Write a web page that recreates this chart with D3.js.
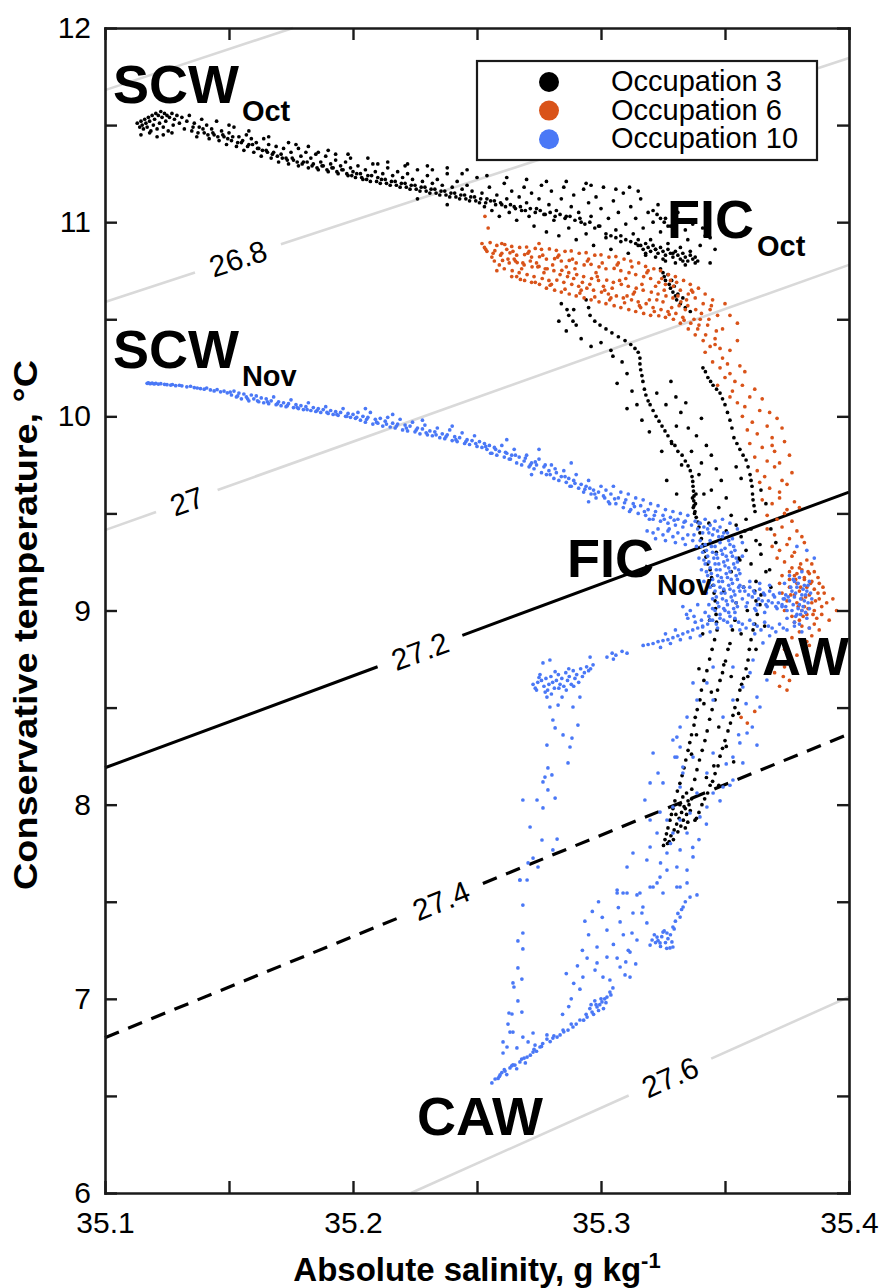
<!DOCTYPE html>
<html>
<head>
<meta charset="utf-8">
<script src="https://cdn.jsdelivr.net/npm/d3@7"></script>
<style>
  body { margin: 0; background: #fff; }
  svg { display: block; }
  text { font-family: "Liberation Sans", Arial, Helvetica, sans-serif; }
</style>
</head>
<body>
<svg id="chart" width="883" height="1288"></svg>
<script>
// ---------- axis ticks ----------
const salinityTicks = [35.1, 35.15, 35.2, 35.25, 35.3, 35.35, 35.4];
const temperatureTicks = [6, 6.5, 7, 7.5, 8, 8.5, 9, 9.5, 10, 10.5, 11, 11.5, 12];

// ---------- isopycnals (sigma0, kg m-3): end points [SA, CT] ----------
const isopycnalLevels = ["26.6", "26.8", "27", "27.2", "27.4", "27.6"];
const isopycnalEnds = [
  [[35.1, 11.68], [35.1758, 12.0]],
  [[35.1, 10.589], [35.4, 11.845]],
  [[35.1, 9.414], [35.4, 10.78]],
  [[35.1, 8.19], [35.4, 9.61]],
  [[35.1, 6.80], [35.4, 8.364]],
  [[35.2234, 6.0], [35.4, 7.01]]
];
const isopycnalLabelSalinity = [null, 35.1536, 35.133, 35.227, 35.2355, 35.3278];

// ---------- legend ----------
const seriesNames = ["Occupation 3", "Occupation 6", "Occupation 10"];

// ---------- water mass annotations ----------
const waterMassNames = ["SCW", "FIC", "SCW", "FIC", "AW", "CAW"];
const waterMassMonths = ["Oct", "Oct", "Nov", "Nov", "", ""];

// ---------- Occupation 3 : [absolute salinity, conservative temperature] ----------
const occupation3 = [
  [35.113,11.51],[35.114,11.49],[35.1145,11.52],[35.115,11.50],[35.1155,11.48],[35.116,11.53],[35.1165,11.51],[35.117,11.49],
  [35.1175,11.54],[35.118,11.52],[35.1185,11.47],[35.119,11.55],[35.1195,11.50],[35.120,11.53],[35.1205,11.56],[35.121,11.48],
  [35.1215,11.55],[35.122,11.51],[35.1225,11.57],[35.123,11.54],[35.1235,11.49],[35.124,11.56],[35.1245,11.52],[35.125,11.55],
  [35.1255,11.47],[35.126,11.54],[35.127,11.56],[35.1275,11.50],[35.128,11.53],[35.129,11.55],[35.130,11.51],[35.131,11.54],
  [35.132,11.48],[35.133,11.52],[35.134,11.55],[35.1145,11.45],[35.118,11.46],[35.121,11.44],[35.1235,11.45],[35.127,11.46],
  [35.135,11.47],[35.136,11.51],[35.137,11.44],[35.138,11.49],[35.139,11.53],[35.140,11.46],[35.141,11.50],[35.142,11.43],
  [35.143,11.48],[35.144,11.45],[35.145,11.52],[35.146,11.42],[35.147,11.47],[35.148,11.44],[35.149,11.40],[35.150,11.46],
  [35.151,11.42],[35.152,11.49],[35.153,11.39],[35.154,11.44],[35.155,11.41],[35.156,11.37],[35.157,11.45],[35.158,11.40],
  [35.159,11.43],[35.160,11.36],[35.161,11.41],[35.162,11.38],[35.163,11.34],[35.164,11.43],[35.165,11.37],[35.166,11.40],
  [35.167,11.33],[35.168,11.36],[35.169,11.39],[35.170,11.31],[35.171,11.35],[35.172,11.38],[35.173,11.33],[35.174,11.30],
  [35.175,11.36],[35.176,11.32],[35.177,11.40],[35.178,11.29],[35.179,11.34],[35.180,11.31],[35.181,11.36],[35.182,11.28],
  [35.183,11.33],[35.184,11.30],[35.185,11.35],[35.186,11.27],[35.187,11.31],[35.188,11.29],[35.189,11.34],[35.190,11.26],
  [35.191,11.30],[35.192,11.28],[35.193,11.32],[35.194,11.25],[35.195,11.29],[35.196,11.27],[35.197,11.31],[35.198,11.24],
  [35.199,11.28],[35.200,11.26],[35.178,11.38],[35.186,11.36],[35.193,11.35],[35.199,11.33],
  [35.201,11.23],[35.202,11.29],[35.203,11.25],[35.204,11.22],[35.205,11.27],[35.206,11.24],[35.207,11.21],[35.208,11.30],
  [35.209,11.26],[35.210,11.23],[35.211,11.20],[35.212,11.25],[35.213,11.22],[35.214,11.28],[35.215,11.19],[35.216,11.24],
  [35.217,11.21],[35.218,11.26],[35.219,11.18],[35.220,11.23],[35.221,11.20],[35.222,11.25],[35.223,11.17],[35.224,11.22],
  [35.225,11.19],[35.226,11.27],[35.227,11.16],[35.228,11.21],[35.229,11.18],[35.230,11.24],[35.231,11.15],[35.232,11.20],
  [35.233,11.17],[35.234,11.22],[35.235,11.14],[35.236,11.19],[35.237,11.16],[35.238,11.25],[35.239,11.13],[35.240,11.18],
  [35.241,11.15],[35.242,11.21],[35.243,11.12],[35.244,11.17],[35.245,11.14],[35.246,11.19],[35.247,11.11],[35.248,11.16],
  [35.249,11.13],[35.250,11.23],[35.210,11.30],[35.221,11.29],[35.232,11.27],[35.244,11.25],[35.226,11.12],[35.238,11.09],
  [35.1355,11.49],[35.1375,11.46],[35.1395,11.48],[35.1415,11.45],[35.1435,11.46],[35.1455,11.44],[35.1475,11.45],[35.1495,11.43],
  [35.1515,11.44],[35.1535,11.41],[35.1555,11.42],[35.1575,11.39],[35.1595,11.40],[35.1615,11.38],[35.1635,11.37],[35.1655,11.36],
  [35.1675,11.35],[35.1695,11.34],[35.1715,11.33],[35.1735,11.32],[35.1755,11.33],[35.1775,11.31],[35.1795,11.30],[35.1815,11.31],
  [35.1835,11.29],[35.1855,11.28],[35.1875,11.29],[35.1895,11.27],[35.1915,11.28],[35.1935,11.26],[35.1955,11.27],[35.1975,11.25],
  [35.1995,11.24],[35.2015,11.25],[35.2035,11.23],[35.2055,11.22],[35.2075,11.24],[35.2095,11.21],[35.2115,11.22],[35.2135,11.20],
  [35.2155,11.21],[35.2175,11.19],[35.2195,11.20],[35.2215,11.18],[35.2235,11.19],[35.2255,11.17],[35.2275,11.18],[35.2295,11.16],
  [35.2315,11.17],[35.2335,11.15],[35.2355,11.16],[35.2375,11.14],[35.2395,11.15],[35.2415,11.13],[35.2435,11.14],[35.2455,11.12],
  [35.2475,11.13],[35.2495,11.11],[35.2515,11.12],[35.2535,11.10],[35.2555,11.11],[35.2575,11.09],[35.2595,11.10],[35.2615,11.08],
  [35.2635,11.09],[35.2655,11.07],[35.2675,11.08],[35.2695,11.06],[35.2715,11.07],[35.2735,11.05],[35.2755,11.06],[35.2775,11.04],
  [35.2795,11.05],[35.2815,11.03],[35.2835,11.04],[35.2855,11.02],[35.2875,11.03],[35.2895,11.01],[35.2915,11.02],[35.2935,10.99],
  [35.2955,11.00],[35.2975,10.97],[35.2995,10.98],
  [35.150,11.50],[35.158,11.47],[35.166,11.44],[35.174,11.41],[35.182,11.39],[35.190,11.37],[35.198,11.35],[35.206,11.33],
  [35.214,11.31],[35.222,11.30],[35.230,11.29],[35.238,11.28],[35.246,11.27],[35.254,11.24],[35.262,11.23],[35.270,11.22],
  [35.278,11.21],[35.286,11.21],[35.294,11.20],
  [35.251,11.10],[35.252,11.15],[35.253,11.08],[35.254,11.12],[35.255,11.18],[35.256,11.06],[35.257,11.11],[35.258,11.14],
  [35.259,11.03],[35.260,11.09],[35.261,11.20],[35.262,11.12],[35.263,11.05],[35.264,11.16],[35.265,11.08],[35.266,11.01],
  [35.267,11.13],[35.268,11.06],[35.269,11.18],[35.270,11.10],[35.271,11.03],[35.272,11.15],[35.273,10.98],[35.274,11.07],
  [35.275,11.12],[35.276,11.19],[35.277,11.04],[35.278,10.95],[35.279,11.09],[35.280,11.16],[35.281,11.01],[35.282,11.06],
  [35.283,10.93],[35.284,11.12],[35.285,11.18],[35.286,11.03],[35.287,10.97],[35.288,11.08],[35.289,11.14],[35.290,10.91],
  [35.291,11.05],[35.292,11.00],[35.293,11.17],[35.294,10.94],[35.295,11.10],[35.296,11.03],[35.297,10.88],[35.298,11.13],
  [35.299,10.98],[35.300,11.07],[35.301,11.18],[35.302,10.92],[35.303,11.02],[35.304,10.86],[35.305,11.11],[35.306,10.96],
  [35.307,11.05],[35.308,10.90],[35.309,11.15],[35.310,10.99],[35.311,10.84],[35.312,11.08],[35.313,10.94],[35.314,11.02],
  [35.315,10.88],[35.316,11.12],[35.317,10.97],[35.318,10.83],[35.319,11.05],[35.320,10.91],[35.321,11.00],[35.322,10.86],
  [35.323,11.09],[35.324,10.95],[35.325,10.81],[35.326,11.02],[35.327,10.89],[35.328,10.98],[35.329,10.84],[35.330,10.93],
  [35.331,11.05],[35.332,10.87],[35.333,10.80],[35.334,10.96],[35.335,10.91],[35.336,10.85],[35.337,10.99],[35.338,10.82],
  [35.340,10.88],[35.342,10.93],[35.344,10.79],[35.346,10.86],[35.341,10.97],[35.344,10.92],[35.343,11.00],
  [35.321,11.06],[35.3226,11.04],[35.324,11.02],[35.3255,11.00],[35.327,10.98],[35.3115,11.18],[35.315,11.16],[35.306,11.17],[35.296,11.19],
  [35.302,10.94],[35.304,10.93],[35.306,10.92],[35.308,10.93],[35.310,10.91],[35.312,10.90],[35.314,10.89],[35.315,10.91],
  [35.316,10.88],[35.317,10.86],[35.318,10.89],[35.319,10.87],[35.320,10.85],[35.321,10.88],[35.322,10.86],[35.323,10.84],
  [35.324,10.87],[35.325,10.85],[35.326,10.83],[35.327,10.86],[35.328,10.84],[35.329,10.82],[35.330,10.85],[35.331,10.83],
  [35.332,10.81],[35.333,10.84],[35.334,10.82],[35.335,10.80],[35.336,10.83],[35.337,10.81],[35.338,10.79],[35.339,10.80],
  [35.318,10.84],[35.322,10.82],[35.326,10.80],[35.330,10.79],[35.334,10.78],
  [35.324,10.76],[35.325,10.74],[35.3255,10.72],[35.326,10.70],[35.327,10.73],[35.3275,10.68],[35.328,10.66],[35.3285,10.70],
  [35.329,10.64],[35.3295,10.67],[35.330,10.62],[35.3305,10.60],[35.331,10.63],[35.332,10.58],[35.333,10.61],[35.334,10.56],[35.336,10.54],
  [35.284,10.58],[35.287,10.52],[35.290,10.47],[35.286,10.44],[35.292,10.40],[35.296,10.36],[35.300,10.38],[35.304,10.34],
  [35.289,10.55],[35.283,10.49],[35.2863,10.55],[35.2887,10.49],
  [35.2940,10.60],[35.2950,10.56],[35.2956,10.52],[35.2975,10.49],[35.2996,10.47],[35.302,10.45],[35.3044,10.43],[35.307,10.41],
  [35.3097,10.39],[35.312,10.37],[35.3137,10.35],[35.315,10.33],[35.3157,10.30],[35.3157,10.27],[35.3160,10.24],[35.3165,10.21],
  [35.3169,10.18],[35.3175,10.14],[35.3181,10.11],[35.319,10.08],[35.3198,10.06],[35.321,10.03],[35.3222,10.00],[35.3234,9.975],
  [35.3246,9.95],[35.3258,9.925],[35.327,9.90],[35.3284,9.87],[35.3298,9.85],[35.331,9.82],[35.3327,9.80],[35.334,9.77],
  [35.3351,9.745],[35.336,9.72],[35.3367,9.69],[35.3370,9.665],[35.3371,9.64],[35.3373,9.615],[35.3375,9.59],[35.3374,9.565],
  [35.3375,9.54],[35.3379,9.51],[35.3372,9.53],[35.3381,9.55],[35.3369,9.58],[35.3383,9.60],[35.3377,9.50],[35.3384,9.48],
  [35.3391,9.455],[35.3395,9.43],[35.3399,9.40],[35.3405,9.37],[35.3411,9.34],[35.3417,9.305],[35.3423,9.275],[35.343,9.24],
  [35.344,9.21],[35.3446,9.17],[35.3452,9.13],[35.3456,9.09],[35.346,9.05],[35.3462,9.01],[35.3464,8.98],[35.3466,8.94],
  [35.3411,10.25],[35.3421,10.23],[35.3431,10.20],[35.3442,10.18],[35.3452,10.16],[35.3466,10.14],[35.348,10.12],[35.349,10.09],
  [35.350,10.06],[35.351,10.02],[35.352,9.98],[35.3528,9.94],[35.3536,9.89],[35.3548,9.86],[35.356,9.83],[35.3573,9.80],
  [35.3585,9.775],[35.3593,9.74],[35.3601,9.70],[35.3605,9.67],[35.3609,9.64],[35.3611,9.60],[35.3613,9.57],[35.3617,9.54],[35.3621,9.51],
  [35.3048,10.31],[35.3085,10.28],[35.3105,10.22],[35.3065,10.17],[35.3125,10.13],[35.3145,10.06],[35.3105,10.04],[35.3165,9.98],
  [35.3225,10.12],[35.3262,10.06],[35.3282,10.18],[35.3302,10.10],[35.3322,10.02],[35.3342,10.07],[35.3304,9.95],[35.3352,9.94],
  [35.3385,9.90],[35.3405,9.99],[35.3425,9.85],[35.3445,9.80],[35.3405,9.76],[35.3465,9.73],[35.3485,9.67],[35.3445,9.62],
  [35.3505,9.58],[35.3475,9.53],[35.3525,9.49],[35.3545,9.44],[35.3505,9.41],[35.3565,9.38],[35.3585,9.47],[35.3605,9.42],
  [35.3625,9.36],[35.3585,9.31],[35.3645,9.29],[35.3605,9.24],[35.3665,9.20],[35.3625,9.15],[35.3685,9.12],[35.3645,9.08],
  [35.3555,9.27],[35.3525,9.20],[35.3575,9.12],[35.3545,9.04],[35.3495,9.10],[35.3465,9.30],[35.3435,9.45],[35.3415,9.60],
  [35.3395,9.70],[35.3365,9.82],[35.3325,9.75],[35.3285,9.86],[35.3245,9.82],[35.3195,9.92],[35.3265,9.67],[35.3305,9.60],
  [35.3705,9.35],[35.3685,9.42],[35.3665,9.55],[35.3645,9.62],[35.3565,9.68],[35.3545,9.74],[35.3625,9.05],
  [35.358,9.41],[35.3641,9.34],[35.356,9.26],[35.368,9.21],[35.362,9.10],[35.359,9.00],[35.366,8.92],
  [35.3468,8.90],[35.3458,8.85],[35.3448,8.80],[35.3438,8.75],[35.3427,8.69],[35.3415,8.64],[35.3405,8.59],[35.3399,8.54],
  [35.3388,8.49],[35.3380,8.45],[35.3375,8.41],[35.3365,8.36],[35.3358,8.32],[35.3351,8.28],[35.3342,8.23],[35.3335,8.19],
  [35.3327,8.15],[35.3318,8.11],[35.3308,8.07],[35.3298,8.02],[35.3290,7.98],[35.3284,7.95],[35.3278,7.92],[35.3270,7.88],
  [35.3264,7.85],[35.3258,7.82],[35.3252,7.79],
  [35.3641,9.03],[35.3630,8.98],[35.3620,8.93],[35.3613,8.90],[35.3605,8.85],[35.3598,8.80],[35.3593,8.745],[35.3585,8.70],
  [35.3575,8.65],[35.3567,8.62],[35.3560,8.59],[35.3550,8.54],[35.3540,8.50],[35.3532,8.46],[35.3522,8.42],[35.3512,8.38],
  [35.3500,8.33],[35.3490,8.29],[35.3480,8.25],[35.3472,8.20],[35.3460,8.16],[35.3450,8.12],[35.3440,8.10],[35.3430,8.06],
  [35.3418,8.03],[35.3407,8.00],[35.3395,7.96],[35.3385,7.93],[35.3379,7.92],
  [35.3540,8.95],[35.3530,8.90],[35.3520,8.83],[35.3512,8.80],[35.3502,8.74],[35.3490,8.68],[35.3480,8.64],[35.3470,8.59],
  [35.3460,8.54],[35.3448,8.49],[35.3438,8.44],[35.3428,8.38],[35.3419,8.33],[35.3408,8.28],[35.3397,8.23],[35.3387,8.18],
  [35.3378,8.13],[35.3366,8.08],[35.3351,8.02],[35.3340,7.98],
  [35.3282,7.84],[35.3295,7.87],[35.3305,7.90],[35.3315,7.93],[35.3325,7.96],[35.3335,7.99],[35.3292,7.82],[35.3310,7.86],
  [35.3322,7.89],[35.3332,7.92],[35.3345,7.95],[35.3355,8.00],[35.3365,8.03],[35.3302,7.95],[35.3318,8.00],[35.3330,8.04],
  [35.3345,8.06],[35.3275,7.81],[35.3268,7.80],[35.3340,7.88],[35.3350,7.91],[35.3360,7.97],
  [35.3565,8.88],[35.3495,8.72],[35.3525,8.66],[35.3445,8.58],[35.3555,8.47],[35.3475,8.40],[35.3415,8.52],[35.3505,8.30],
  [35.3385,8.36],[35.3535,8.22],[35.3455,8.20],[35.3365,8.26],[35.3425,8.14],[35.3475,8.10],[35.3625,8.80],[35.3592,8.66],
  [35.3410,8.88],[35.3395,8.70],[35.3438,8.95]
];

// ---------- Occupation 6 ----------
const occupation6 = [
  [35.252,10.89],[35.2553,10.895],[35.258,10.88],[35.2612,10.885],[35.264,10.875],[35.2672,10.87],[35.270,10.872],[35.2735,10.865],
  [35.276,10.86],[35.2792,10.862],[35.282,10.855],[35.2855,10.85],[35.288,10.852],[35.2912,10.84],[35.294,10.843],[35.2975,10.83],
  [35.300,10.832],[35.3032,10.82],[35.306,10.823],[35.3093,10.81],[35.312,10.80],[35.3152,10.79],[35.318,10.772],[35.3213,10.76],
  [35.324,10.75],[35.3272,10.73],[35.330,10.72],[35.3333,10.70],[35.336,10.68],[35.3393,10.66],[35.342,10.63],
  [35.254,10.85],[35.2572,10.853],[35.260,10.84],[35.2633,10.842],[35.266,10.83],[35.2692,10.833],[35.272,10.82],[35.2752,10.822],
  [35.278,10.81],[35.2813,10.812],[35.284,10.80],[35.2872,10.803],[35.290,10.79],[35.2932,10.78],[35.296,10.783],[35.2992,10.77],
  [35.302,10.76],[35.3053,10.762],[35.308,10.75],[35.3113,10.74],[35.314,10.73],[35.3172,10.72],[35.320,10.71],[35.3233,10.69],
  [35.326,10.68],[35.3292,10.67],[35.332,10.65],[35.3352,10.63],[35.338,10.61],[35.3412,10.58],[35.344,10.55],
  [35.257,10.80],[35.2603,10.803],[35.263,10.79],[35.2662,10.792],[35.269,10.78],[35.2722,10.77],[35.275,10.772],[35.2783,10.76],
  [35.281,10.75],[35.2842,10.752],[35.287,10.74],[35.2902,10.73],[35.293,10.72],[35.2962,10.71],[35.299,10.70],[35.3023,10.702],
  [35.305,10.69],[35.3082,10.68],[35.311,10.67],[35.3142,10.66],[35.317,10.65],[35.3203,10.64],[35.323,10.63],[35.3262,10.62],
  [35.329,10.61],[35.3322,10.59],[35.335,10.57],[35.3382,10.55],
  [35.261,10.76],[35.2642,10.75],[35.267,10.74],[35.2702,10.73],[35.273,10.72],[35.2763,10.71],[35.279,10.70],[35.2822,10.702],
  [35.285,10.69],[35.2882,10.68],[35.291,10.67],[35.2943,10.66],[35.297,10.65],[35.3002,10.64],[35.303,10.63],[35.3062,10.62],
  [35.309,10.61],[35.3123,10.60],[35.315,10.59],[35.3182,10.58],[35.321,10.56],[35.3242,10.55],[35.327,10.54],[35.3302,10.53],
  [35.333,10.51],[35.3362,10.48],[35.339,10.45],[35.3422,10.42],
  [35.266,10.72],[35.2692,10.70],[35.272,10.69],[35.2752,10.68],[35.278,10.66],[35.2813,10.65],[35.284,10.64],[35.2872,10.63],
  [35.290,10.62],[35.2932,10.61],[35.296,10.60],[35.2992,10.59],[35.302,10.58],[35.3053,10.57],[35.308,10.56],[35.3112,10.55],
  [35.314,10.54],[35.3172,10.53],[35.320,10.52],[35.3233,10.518],[35.326,10.51],[35.3292,10.50],[35.332,10.48],[35.3352,10.45],
  [35.338,10.42],[35.3412,10.39],[35.344,10.36],
  [35.253,10.87],[35.256,10.82],[35.259,10.78],[35.262,10.86],[35.265,10.81],[35.268,10.76],[35.271,10.85],[35.274,10.79],
  [35.277,10.74],[35.280,10.68],[35.283,10.83],[35.286,10.77],[35.289,10.71],[35.292,10.65],[35.295,10.81],[35.298,10.74],
  [35.301,10.67],[35.304,10.61],[35.307,10.79],[35.310,10.71],[35.313,10.63],[35.316,10.56],[35.319,10.75],[35.322,10.67],
  [35.325,10.59],[35.328,10.70],[35.331,10.62],[35.334,10.55],[35.337,10.64],[35.340,10.50],[35.343,10.47],[35.345,10.60],
  [35.347,10.52],[35.349,10.45],[35.346,10.40],[35.348,10.35],[35.260,10.89],[35.275,10.89],[35.258,10.75],[35.264,10.72],
  [35.2535,10.86],[35.2565,10.84],[35.2595,10.83],[35.2625,10.81],[35.2655,10.80],[35.2685,10.79],[35.2715,10.80],[35.2745,10.77],
  [35.2775,10.76],[35.2805,10.78],[35.2835,10.73],[35.2865,10.72],[35.2895,10.76],[35.2925,10.69],[35.2955,10.68],[35.2985,10.72],
  [35.3015,10.65],[35.3045,10.66],[35.3075,10.70],[35.3105,10.62],[35.3135,10.64],[35.3165,10.68],[35.3195,10.60],[35.3225,10.60],
  [35.3255,10.65],[35.3285,10.56],[35.3315,10.57],[35.3345,10.60],[35.3375,10.50],[35.3405,10.53],[35.2645,10.85],[35.2705,10.84],
  [35.2765,10.83],[35.2825,10.82],[35.2885,10.81],[35.2945,10.80],[35.3005,10.79],[35.3065,10.78],[35.3125,10.77],[35.3185,10.74],
  [35.3245,10.71],[35.3305,10.69],[35.3365,10.65],[35.2675,10.705],[35.2735,10.69],[35.2795,10.675],[35.2855,10.655],[35.2915,10.635],
  [35.2975,10.615],[35.3035,10.60],[35.3095,10.585],[35.3155,10.57],[35.3215,10.54],[35.3275,10.525],[35.3335,10.495],[35.3395,10.47],
  [35.3435,10.50],[35.3465,10.44],[35.3445,10.57],
  [35.2532,11.03],[35.2545,10.97],[35.352,10.52],[35.350,10.58],[35.355,10.48],
  [35.342,10.33],[35.346,10.37],[35.349,10.30],[35.352,10.34],[35.355,10.39],[35.345,10.28],[35.351,10.27],
  [35.348,10.25],[35.352,10.22],[35.356,10.26],[35.350,10.20],[35.354,10.18],[35.358,10.23],[35.347,10.16],
  [35.353,10.13],[35.357,10.16],[35.360,10.10],[35.355,10.07],[35.362,10.14],[35.358,10.05],[35.365,10.09],[35.368,10.02],[35.352,10.10],
  [35.357,10.00],[35.361,9.97],[35.364,10.03],[35.367,9.95],[35.371,9.99],[35.359,9.93],[35.363,9.91],[35.369,9.89],[35.373,9.94],
  [35.360,9.86],[35.365,9.84],[35.370,9.82],[35.374,9.87],[35.362,9.79],[35.367,9.77],[35.372,9.76],[35.376,9.80],[35.369,9.85],
  [35.363,9.72],[35.366,9.69],[35.370,9.74],[35.373,9.67],[35.377,9.71],[35.368,9.63],[35.372,9.61],[35.375,9.65],[35.364,9.66],
  [35.365,9.57],[35.369,9.55],[35.372,9.58],[35.375,9.52],[35.378,9.56],[35.367,9.49],[35.371,9.47],[35.374,9.50],[35.377,9.46],[35.380,9.53],
  [35.367,9.42],[35.370,9.39],[35.373,9.43],[35.376,9.37],[35.379,9.41],[35.382,9.35],[35.369,9.33],[35.372,9.31],[35.375,9.34],[35.378,9.30],[35.381,9.38],
  [35.371,9.27],[35.374,9.25],[35.377,9.28],[35.380,9.22],[35.383,9.26],[35.386,9.20],[35.373,9.18],[35.376,9.16],[35.379,9.19],[35.382,9.17],[35.385,9.15],
  [35.377,9.22],[35.378,9.18],[35.379,9.14],[35.380,9.10],[35.381,9.06],[35.382,9.02],[35.383,8.98],[35.376,9.12],
  [35.378,9.08],[35.379,9.04],[35.381,9.00],[35.383,9.12],[35.384,9.08],[35.385,9.04],[35.386,9.00],[35.387,8.96],
  [35.388,9.06],[35.389,9.02],[35.375,9.05],[35.374,9.00],[35.377,8.97],[35.380,8.95],[35.382,9.16],[35.384,9.19],
  [35.386,9.11],[35.388,9.14],[35.390,9.09],[35.391,9.04],[35.389,8.98],[35.386,8.93],[35.384,8.91],[35.381,8.92],
  [35.378,8.94],[35.373,9.09],[35.372,9.14],[35.376,9.20],[35.385,9.24],[35.381,9.21],
  [35.3805,9.12],[35.3825,9.07],[35.3845,9.14],[35.3865,9.05],[35.3795,9.02],[35.3815,8.97],[35.3835,9.01],[35.3855,8.98],
  [35.3875,9.09],[35.3785,9.16],[35.3835,9.20],[35.3805,9.24],[35.3875,9.17],[35.3895,9.12],[35.3765,9.08],
  [35.380,8.89],[35.385,8.87],[35.388,8.90],[35.377,8.86],[35.383,8.84],[35.374,8.80],[35.379,8.77],[35.384,8.82],
  [35.370,8.68],[35.3735,8.66],[35.372,8.61],[35.375,8.59],[35.376,8.64],[35.374,8.71],[35.362,8.48],[35.3565,8.45],
  [35.359,8.42],[35.392,8.95],[35.395,9.00],[35.3935,9.06]
];

// ---------- Occupation 10 ----------
const occupation10 = [
  [35.1170,10.17],[35.1175,10.172],[35.1182,10.168],[35.1190,10.171],[35.1198,10.167],[35.1205,10.170],[35.1215,10.166],[35.1225,10.168],
  [35.1240,10.165],[35.1250,10.163],[35.1265,10.161],[35.1272,10.164],[35.1285,10.158],[35.130,10.160],[35.1310,10.157],[35.1330,10.152],
  [35.1345,10.155],[35.1360,10.148],[35.1372,10.146],[35.1385,10.143],[35.1400,10.140],[35.1410,10.146],[35.1425,10.136],[35.1440,10.131],
  [35.1452,10.138],[35.1466,10.126],[35.1480,10.130],[35.1493,10.121],[35.1505,10.125],
  [35.151,10.11],[35.152,10.13],[35.153,10.10],[35.154,10.12],[35.155,10.09],[35.156,10.115],[35.157,10.10],[35.158,10.08],
  [35.159,10.11],[35.160,10.09],[35.161,10.105],[35.162,10.075],[35.163,10.095],[35.164,10.07],[35.165,10.09],[35.166,10.065],
  [35.167,10.08],[35.168,10.10],[35.169,10.06],[35.170,10.075],[35.171,10.055],[35.172,10.07],[35.173,10.05],[35.174,10.065],
  [35.175,10.085],[35.176,10.045],[35.177,10.06],[35.178,10.04],[35.179,10.055],[35.180,10.035],[35.181,10.05],[35.182,10.07],
  [35.183,10.03],[35.184,10.045],[35.185,10.025],[35.186,10.04],[35.187,10.02],[35.188,10.035],[35.189,10.05],[35.190,10.015],
  [35.191,10.03],[35.192,10.01],[35.193,10.025],[35.194,10.005],[35.195,10.02],[35.196,10.04],[35.197,10.00],[35.198,10.015],
  [35.199,9.995],[35.200,10.01],
  [35.1535,10.105],[35.1575,10.09],[35.1615,10.08],[35.1655,10.075],[35.1695,10.065],[35.1735,10.055],[35.1775,10.045],[35.1815,10.035],
  [35.1855,10.03],[35.1895,10.02],[35.1935,10.01],[35.1975,10.00],[35.2015,9.995],[35.2055,9.985],[35.2095,9.97],[35.2135,9.96],
  [35.2175,9.95],[35.2215,9.94],[35.2255,9.93],[35.2295,9.915],[35.2335,9.905],[35.2375,9.895],[35.2415,9.88],[35.2455,9.87],
  [35.2495,9.86],[35.2535,9.845],[35.2575,9.83],[35.2615,9.815],[35.2655,9.80],[35.2695,9.785],[35.2735,9.765],[35.2775,9.75],
  [35.2815,9.73],[35.2855,9.69],[35.2895,9.655],[35.2935,9.625],[35.2975,9.60],[35.3015,9.58],[35.3055,9.575],[35.3095,9.555],
  [35.3135,9.535],[35.3175,9.51],[35.3215,9.49],[35.3255,9.47],[35.3295,9.465],[35.3335,9.455],[35.2555,9.81],[35.2635,9.78],
  [35.2715,9.75],[35.2795,9.70],[35.2875,9.64],[35.2955,9.63],[35.3035,9.55],[35.3115,9.51],[35.3195,9.47],[35.3275,9.42],
  [35.201,9.99],[35.202,10.02],[35.203,9.98],[35.204,10.00],[35.205,9.97],[35.206,9.995],[35.207,10.02],[35.208,9.96],
  [35.209,9.985],[35.210,9.965],[35.211,9.99],[35.212,9.95],[35.213,9.975],[35.214,9.995],[35.215,9.945],[35.216,9.965],
  [35.217,9.94],[35.218,9.96],[35.219,9.985],[35.220,9.93],[35.221,9.955],[35.222,9.925],[35.223,9.95],[35.224,9.97],
  [35.225,9.92],[35.226,9.94],[35.227,9.91],[35.228,9.935],[35.229,9.955],[35.230,9.905],[35.231,9.925],[35.232,9.90],
  [35.233,9.92],[35.234,9.94],[35.235,9.89],[35.236,9.91],[35.237,9.885],[35.238,9.905],[35.239,9.93],[35.240,9.875],
  [35.241,9.895],[35.242,9.87],[35.243,9.89],[35.244,9.915],[35.245,9.86],[35.246,9.88],[35.247,9.855],[35.248,9.875],
  [35.249,9.90],[35.250,9.845],[35.205,10.04],[35.216,10.01],[35.228,9.98],[35.240,9.95],
  [35.251,9.87],[35.252,9.84],[35.253,9.86],[35.254,9.83],[35.255,9.85],[35.256,9.81],[35.257,9.84],[35.258,9.80],
  [35.259,9.82],[35.260,9.85],[35.261,9.79],[35.262,9.81],[35.263,9.78],[35.264,9.80],[35.265,9.83],[35.266,9.76],
  [35.267,9.79],[35.268,9.75],[35.269,9.77],[35.270,9.80],[35.271,9.74],[35.272,9.76],[35.273,9.73],[35.274,9.75],
  [35.275,9.78],[35.276,9.71],[35.277,9.74],[35.278,9.70],[35.279,9.72],[35.280,9.75],[35.281,9.68],[35.282,9.71],
  [35.283,9.67],[35.284,9.69],[35.285,9.72],[35.286,9.66],[35.287,9.68],[35.288,9.64],[35.289,9.67],[35.290,9.70],
  [35.291,9.63],[35.292,9.65],[35.293,9.61],[35.294,9.64],[35.295,9.67],[35.296,9.60],[35.297,9.62],[35.298,9.58],
  [35.299,9.61],[35.300,9.64],[35.262,9.88],[35.275,9.83],[35.288,9.76],[35.272,9.70],[35.295,9.56],
  [35.301,9.59],[35.302,9.62],[35.303,9.56],[35.304,9.60],[35.305,9.64],[35.306,9.55],[35.307,9.58],[35.308,9.61],
  [35.309,9.53],[35.310,9.57],[35.311,9.60],[35.312,9.52],[35.313,9.55],[35.314,9.58],[35.315,9.50],[35.316,9.54],
  [35.317,9.57],[35.318,9.49],[35.319,9.52],[35.320,9.55],[35.321,9.47],[35.322,9.51],[35.323,9.54],[35.324,9.46],
  [35.325,9.49],[35.326,9.52],[35.327,9.45],[35.328,9.48],[35.329,9.51],[35.330,9.44],[35.331,9.47],[35.332,9.50],
  [35.333,9.43],[35.334,9.46],[35.335,9.49],
  [35.3186,9.41],[35.321,9.40],[35.323,9.42],[35.325,9.39],[35.327,9.41],[35.329,9.38],[35.331,9.40],[35.333,9.37],
  [35.335,9.39],[35.337,9.36],[35.322,9.37],[35.326,9.36],[35.330,9.35],[35.334,9.34],
  [35.338,9.46],[35.340,9.45],[35.342,9.47],[35.344,9.44],[35.346,9.46],[35.348,9.43],[35.339,9.42],[35.341,9.40],
  [35.343,9.42],[35.345,9.39],[35.347,9.41],[35.349,9.38],[35.351,9.40],[35.353,9.37],[35.340,9.36],[35.342,9.34],
  [35.344,9.36],[35.346,9.33],[35.348,9.35],[35.350,9.32],[35.352,9.34],[35.354,9.31],[35.341,9.30],[35.343,9.28],
  [35.345,9.30],[35.347,9.27],[35.349,9.29],[35.351,9.26],[35.353,9.28],[35.355,9.25],[35.342,9.24],[35.344,9.22],
  [35.346,9.24],[35.348,9.21],[35.350,9.23],[35.352,9.20],[35.354,9.22],[35.356,9.19],[35.343,9.18],[35.345,9.16],
  [35.347,9.18],[35.349,9.15],[35.351,9.17],[35.353,9.14],[35.355,9.16],[35.344,9.12],[35.346,9.10],[35.348,9.12],
  [35.350,9.09],[35.352,9.11],[35.354,9.08],[35.356,9.10],[35.345,9.06],[35.347,9.04],[35.349,9.06],[35.351,9.03],
  [35.353,9.05],[35.355,9.02],[35.346,9.00],[35.348,8.98],[35.350,9.00],[35.352,8.97],[35.354,8.99],[35.3365,9.44],
  [35.3375,9.39],[35.3385,9.33],[35.3395,9.27],[35.3405,9.21],[35.3415,9.15],[35.3425,9.09],[35.3435,9.03],[35.349,9.47],
  [35.352,9.45],[35.355,9.42],[35.357,9.35],[35.357,9.28],
  [35.3395,9.45],[35.3415,9.43],[35.3435,9.40],[35.3455,9.42],[35.3475,9.38],[35.3495,9.40],[35.3515,9.36],[35.3535,9.33],
  [35.3405,9.33],[35.3425,9.31],[35.3445,9.33],[35.3465,9.29],[35.3485,9.31],[35.3505,9.28],[35.3525,9.30],[35.3545,9.27],
  [35.3415,9.26],[35.3435,9.25],[35.3455,9.27],[35.3475,9.24],[35.3495,9.25],[35.3515,9.22],[35.3535,9.24],[35.3555,9.21],
  [35.3425,9.20],[35.3445,9.19],[35.3465,9.21],[35.3485,9.17],[35.3505,9.19],[35.3525,9.16],[35.3545,9.18],[35.3435,9.14],
  [35.3455,9.13],[35.3475,9.15],[35.3495,9.11],[35.3515,9.13],[35.3535,9.10],[35.3555,9.12],[35.3465,9.07],[35.3485,9.09],
  [35.3505,9.05],[35.3525,9.07],[35.3545,9.04],[35.3475,9.02],[35.3495,9.01],[35.3515,8.99],[35.3535,9.01],
  [35.356,9.13],[35.358,9.10],[35.360,9.12],[35.362,9.09],[35.364,9.11],[35.366,9.08],[35.368,9.10],[35.370,9.07],
  [35.372,9.09],[35.374,9.06],[35.357,9.06],[35.359,9.04],[35.361,9.07],[35.363,9.03],[35.365,9.05],[35.367,9.02],
  [35.369,9.04],[35.371,9.01],[35.373,9.03],[35.375,9.00],[35.360,9.15],[35.364,9.14],[35.368,9.13],[35.362,9.01],[35.366,8.99],
  [35.3575,9.12],[35.3595,9.08],[35.3615,9.10],[35.3635,9.06],[35.3655,9.09],[35.3675,9.05],[35.3695,9.08],[35.3715,9.04],
  [35.3735,9.06],[35.3585,9.02],[35.3625,9.00],[35.3665,9.03],[35.3705,9.02],[35.3745,9.02],
  [35.376,9.18],[35.378,9.15],[35.380,9.17],[35.382,9.13],[35.377,9.10],[35.379,9.12],[35.381,9.08],[35.383,9.10],
  [35.376,9.05],[35.378,9.07],[35.380,9.03],[35.382,9.05],[35.384,9.01],[35.377,9.00],[35.379,8.98],[35.381,9.00],
  [35.383,8.96],[35.375,8.96],[35.378,8.94],[35.380,8.93],[35.374,9.14],[35.381,9.20],[35.384,9.15],[35.385,9.06],
  [35.3745,9.08],[35.373,9.02],[35.383,9.31],[35.386,9.27],[35.379,9.33],
  [35.3775,9.16],[35.3795,9.14],[35.3815,9.11],[35.3785,9.09],[35.3805,9.06],[35.3825,9.08],[35.3775,9.03],[35.3795,9.01],
  [35.3815,9.02],[35.3835,9.04],[35.3785,8.97],[35.3805,8.98],[35.3825,8.99],[35.3765,9.12],[35.3755,9.07],[35.3835,9.13],[35.3845,9.09],
  [35.333,9.02],[35.336,9.00],[35.339,9.03],[35.342,8.99],[35.345,9.01],[35.348,8.96],[35.351,8.94],[35.354,8.96],
  [35.357,8.93],[35.360,8.95],[35.363,8.92],[35.366,8.94],[35.369,8.91],[35.372,8.93],[35.375,8.90],[35.378,8.92],
  [35.381,8.89],[35.384,8.91],[35.335,8.96],[35.338,8.94],[35.341,8.92],[35.344,8.95],[35.347,8.91],[35.356,8.90],
  [35.362,8.88],[35.368,8.87],
  [35.3345,8.98],[35.3375,8.97],[35.3405,8.95],[35.3435,8.97],[35.3465,8.93],[35.3495,8.95],[35.3525,8.92],[35.3555,8.94],
  [35.3585,8.91],[35.3615,8.93],[35.3645,8.90],[35.3675,8.92],[35.3705,8.89],[35.3735,8.91],
  [35.345,8.95],[35.343,8.93],[35.341,8.915],[35.339,8.91],[35.337,8.90],[35.335,8.89],[35.333,8.88],[35.331,8.87],
  [35.329,8.86],[35.327,8.85],[35.325,8.845],[35.323,8.84],[35.321,8.83],[35.319,8.825],[35.317,8.82],[35.336,8.86],
  [35.332,8.85],[35.328,8.83],[35.324,8.81],[35.340,8.87],[35.344,8.89],[35.330,8.90],[35.326,8.88],
  [35.3024,8.76],[35.3045,8.78],[35.306,8.77],[35.3085,8.79],[35.3105,8.78],[35.305,8.75],
  [35.2726,8.62],[35.2735,8.60],[35.2745,8.63],[35.2754,8.67],[35.2760,8.64],[35.2770,8.61],[35.2778,8.65],[35.2785,8.59],
  [35.2790,8.62],[35.2798,8.66],[35.2805,8.63],[35.2812,8.60],[35.2820,8.64],[35.2828,8.67],[35.2835,8.62],[35.2842,8.65],
  [35.2850,8.61],[35.2858,8.68],[35.2865,8.64],[35.2872,8.66],[35.2880,8.62],[35.2888,8.69],[35.2895,8.65],[35.2902,8.67],
  [35.2910,8.63],[35.2918,8.70],[35.2925,8.66],[35.2933,8.68],[35.2942,8.71],[35.2950,8.69],[35.2958,8.70],[35.2968,8.72],
  [35.2766,8.73],[35.2794,8.745],[35.2956,8.76],[35.2775,8.58],[35.2800,8.57],[35.2830,8.60],[35.2860,8.59],[35.2890,8.61],
  [35.2750,8.655],[35.2815,8.685],[35.2870,8.70],[35.2740,8.59],
  [35.2782,8.554],[35.2794,8.503],[35.2827,8.513],[35.2806,8.436],[35.2815,8.395],[35.2782,8.307],[35.2847,8.359],[35.2883,8.343],
  [35.2875,8.297],[35.2867,8.215],[35.2786,8.189],[35.2802,8.153],[35.2774,8.142],[35.2766,8.117],[35.2815,8.034],[35.2786,8.076],
  [35.2907,8.41],[35.2887,8.503],[35.2915,8.554],[35.2843,8.554],
  [35.2685,8.024],[35.2742,8.024],[35.2766,7.983],[35.2714,7.885],[35.2762,7.818],[35.2823,7.823],[35.2806,7.767],[35.2726,7.725],
  [35.2706,7.70],[35.2746,7.679],[35.2673,7.612],[35.2702,7.612],
  [35.321,8.266],[35.323,8.163],[35.3198,8.112],[35.325,8.112],[35.3177,8.024],[35.3238,7.962],[35.3198,7.921],[35.3306,8.348],
  [35.3319,8.297],[35.3298,8.245],[35.333,8.194],[35.3371,8.245],
  [35.356,8.318],[35.3629,8.307],[35.3532,8.245],[35.3572,8.215],[35.3532,8.127],[35.3492,8.091],[35.3452,8.06],[35.3589,8.369],
  [35.3641,8.503],[35.3629,8.554],[35.3669,8.642],[35.3572,8.606],[35.3532,8.709],[35.3613,8.745],[35.3653,8.833],[35.3452,8.709],
  [35.3427,8.627],[35.3371,8.627],[35.3387,8.539],[35.3347,8.451],[35.3319,8.40],[35.3452,8.539],[35.3492,8.451],[35.3532,8.539],
  [35.3452,8.266],[35.3427,8.163],[35.3387,8.06],[35.3359,7.957],[35.3399,7.937],[35.3427,7.988],[35.3319,7.921],[35.329,7.854],
  [35.3347,7.854],[35.3319,7.767],[35.3371,7.731],[35.3266,7.751],[35.3306,7.679],[35.3347,7.663],[35.3266,7.663],[35.3185,7.715],
  [35.3238,7.627],[35.3319,7.576],[35.3129,7.751],[35.3105,7.679],[35.3157,7.545],[35.321,7.576],[35.3089,7.545],[35.3065,7.56],
  [35.329,8.333],[35.3306,8.245],[35.333,8.163],[35.3319,8.091],[35.329,7.988],[35.3266,7.921],[35.3226,7.854],[35.3198,7.782],
  [35.3601,8.68],[35.3585,8.52],[35.3610,8.40],[35.3555,8.36],[35.3505,8.21],[35.3480,8.02],[35.3520,8.10],[35.3425,7.90],
  [35.3395,7.82],[35.3370,7.78],[35.3280,7.80],[35.3240,7.70],
  [35.2673,7.612],[35.2685,7.483],[35.2685,7.339],[35.2665,7.298],[35.2685,7.257],[35.2665,7.159],[35.2681,7.102],[35.2645,7.082],
  [35.2649,7.061],[35.2665,6.989],[35.2629,6.927],[35.2641,6.922],[35.2681,6.932],[35.2625,6.87],[35.2633,6.829],[35.2645,6.829],
  [35.2726,6.824],[35.2685,6.803],[35.2605,6.778],[35.2706,6.778],[35.2621,6.752],[35.2661,6.747],[35.2605,6.721],[35.2734,6.762],
  [35.2782,6.814],[35.2823,6.803],[35.2847,6.839],
  [35.256,6.567],[35.2573,6.587],[35.2593,6.608],[35.2613,6.628],[35.2633,6.644],[35.2653,6.659],[35.2673,6.675],[35.2702,6.70],
  [35.2726,6.726],[35.2754,6.752],[35.2782,6.793],[35.2806,6.798],[35.2835,6.814],[35.2867,6.839],[35.2887,6.855],[35.2915,6.891],
  [35.2944,6.906],[35.2964,6.932],[35.2984,6.958],[35.3004,6.984],[35.3024,7.009],[35.3036,7.035],[35.3048,7.056],
  [35.2585,6.59],[35.2600,6.62],[35.2620,6.61],[35.2640,6.655],[35.2660,6.64],[35.2680,6.69],[35.2695,6.67],[35.2715,6.71],
  [35.2740,6.73],[35.2765,6.77],[35.2795,6.78],[35.2850,6.83],[35.2900,6.87],[35.2930,6.89],[35.2955,6.95],[35.2970,6.92],
  [35.2995,6.97],[35.3010,6.95],[35.2975,6.99],[35.3000,7.00],[35.2990,6.94],[35.3020,6.98],[35.2960,6.97],[35.3040,7.02],
  [35.2590,6.60],[35.2610,6.635],[35.2645,6.66],[35.2690,6.695],[35.2730,6.74],[35.2760,6.755],[35.2810,6.81],[35.2880,6.87],
  [35.2940,6.92],[35.2980,6.97],[35.3015,7.00],
  [35.3036,7.097],[35.3008,7.112],[35.2927,7.112],[35.2984,7.185],[35.3024,7.215],[35.3077,7.164],[35.3097,7.123],[35.3117,7.112],
  [35.3065,7.21],[35.3117,7.241],[35.3145,7.303],[35.3125,7.339],[35.3024,7.354],[35.3077,7.396],[35.2984,7.267],[35.2944,7.21],
  [35.2976,7.148],[35.3129,7.442],[35.3169,7.473],[35.3065,7.545],[35.3105,7.545],[35.3145,7.535],[35.3198,7.576],[35.3226,7.597],
  [35.3165,7.442],[35.3185,7.391],[35.325,7.545],[35.3306,7.576],[35.3347,7.597],[35.3359,7.524],[35.3387,7.535],[35.3331,7.473],
  [35.3319,7.421],[35.329,7.37],[35.3266,7.339],[35.3226,7.318],[35.3206,7.303],[35.3198,7.277],[35.3238,7.288],[35.3286,7.293],
  [35.329,7.267],[35.3278,7.262],[35.325,7.344],
  [35.3215,7.33],[35.3230,7.30],[35.3245,7.32],[35.3260,7.29],[35.3270,7.31],[35.3255,7.35],[35.3240,7.27],[35.3280,7.33],
  [35.3295,7.36],[35.3220,7.29],[35.3265,7.26],[35.3300,7.40],[35.3310,7.44],[35.3325,7.46],[35.3340,7.50],
  [35.2905,7.17],[35.2925,7.25],[35.2950,7.33],[35.2935,7.40],[35.2965,7.45],[35.2990,7.50],[35.3005,7.42],[35.2915,7.05],
  [35.2890,7.08],[35.2880,7.00],[35.3050,7.28],[35.3070,7.47],[35.3090,7.33],[35.3110,7.25],[35.3140,7.18],[35.3100,7.19],
  [35.2860,7.13],[35.2870,6.96],[35.2845,6.92]
];

const seriesData = [occupation3, occupation6, occupation10];
const seriesColors = ["#000000", "#d95319", "#4a78f6"];

// ---------- layout ----------
const margin = { left: 105, right: 849, top: 28, bottom: 1193 };
const fontFamily = '"Liberation Sans", Arial, Helvetica, sans-serif';

const x = d3.scaleLinear().domain([35.1, 35.4]).range([margin.left, margin.right]);
const y = d3.scaleLinear().domain([6, 12]).range([margin.bottom, margin.top]);

const svg = d3.select("#chart");
svg.append("rect").attr("width", 883).attr("height", 1288).attr("fill", "#fff");

const gContours = svg.append("g");
const gDots = svg.append("g");
const gText = svg.append("g");
const gAxes = svg.append("g");

// ---------- isopycnal lines with inline labels ----------
const contourStyle = [
  { stroke: "#d9d9d9", width: 2.6, dash: null },
  { stroke: "#d9d9d9", width: 2.6, dash: null },
  { stroke: "#d9d9d9", width: 2.6, dash: null },
  { stroke: "#000000", width: 3, dash: null },
  { stroke: "#000000", width: 3.2, dash: "15,10" },
  { stroke: "#d9d9d9", width: 2.6, dash: null }
];
const lineGen = d3.line().x(d => d[0]).y(d => d[1]);

isopycnalLevels.forEach((level, i) => {
  const [a, b] = isopycnalEnds[i];
  const p0 = [x(a[0]), y(a[1])];
  const p1 = [x(b[0]), y(b[1])];
  const dx = p1[0] - p0[0], dy = p1[1] - p0[1];
  const len = Math.hypot(dx, dy);
  const ux = dx / len, uy = dy / len;
  const segments = [];
  const s = isopycnalLabelSalinity[i];
  if (s != null) {
    const t = (x(s) - p0[0]) / dx;
    const c = [p0[0] + t * dx, p0[1] + t * dy];
    const angle = Math.atan2(dy, dx) * 180 / Math.PI;
    const label = gText.append("text")
      .attr("transform", `translate(${c[0]},${c[1]}) rotate(${angle})`)
      .attr("text-anchor", "middle")
      .attr("dy", "0.36em")
      .attr("font-size", 30)
      .attr("fill", "#000")
      .text(level);
    const half = label.node().getComputedTextLength() / 2 + 16;
    segments.push([p0, [c[0] - ux * half, c[1] - uy * half]]);
    segments.push([[c[0] + ux * half, c[1] + uy * half], p1]);
  } else {
    segments.push([p0, p1]);
  }
  const st = contourStyle[i];
  segments.forEach(seg => {
    gContours.append("path")
      .attr("d", lineGen(seg))
      .attr("fill", "none")
      .attr("stroke", st.stroke)
      .attr("stroke-width", st.width)
      .attr("stroke-dasharray", st.dash);
  });
});

// ---------- scatter ----------
seriesData.forEach((series, k) => {
  gDots.append("g")
    .selectAll("circle")
    .data(series)
    .join("circle")
    .attr("cx", d => x(d[0]))
    .attr("cy", d => y(d[1]))
    .attr("r", 1.85)
    .attr("fill", seriesColors[k]);
});

// ---------- water mass labels (anchored in data coordinates) ----------
const waterMassAnchor = [
  [35.1032, 11.614], [35.3266, 10.918], [35.1032, 10.249],
  [35.2863, 9.172], [35.3649, 8.668], [35.2258, 6.299]
];
waterMassNames.forEach((name, i) => {
  const t = gText.append("text")
    .attr("x", x(waterMassAnchor[i][0]))
    .attr("y", y(waterMassAnchor[i][1]))
    .attr("font-size", 54)
    .attr("font-weight", "bold")
    .attr("fill", "#000")
    .text(name);
  if (waterMassMonths[i]) {
    t.append("tspan")
      .attr("dx", 3)
      .attr("dy", 18)
      .attr("font-size", 29)
      .text(waterMassMonths[i]);
  }
});

// ---------- axes ----------
const isLabelS = d => Math.abs(d * 10 - Math.round(d * 10)) < 1e-6;
const styleAxis = g => {
  g.attr("font-size", 30).attr("font-family", fontFamily);
  g.select(".domain").attr("stroke", "#1a1a1a").attr("stroke-width", 2.6).attr("stroke-linecap", "square");
  g.selectAll(".tick line").attr("stroke", "#1a1a1a").attr("stroke-width", 2.4);
  g.selectAll(".tick text").attr("fill", "#000");
};

gAxes.append("g")
  .attr("transform", `translate(0,${margin.bottom})`)
  .call(d3.axisBottom(x).tickValues(salinityTicks).tickSize(-12).tickSizeOuter(0).tickPadding(19)
    .tickFormat(d => isLabelS(d) ? d3.format(".1f")(d) : ""))
  .call(styleAxis);

gAxes.append("g")
  .attr("transform", `translate(0,${margin.top})`)
  .call(d3.axisTop(x).tickValues(salinityTicks).tickSize(-12).tickSizeOuter(0).tickFormat(() => ""))
  .call(styleAxis);

gAxes.append("g")
  .attr("transform", `translate(${margin.left},0)`)
  .call(d3.axisLeft(y).tickValues(temperatureTicks).tickSize(-12).tickSizeOuter(0).tickPadding(14)
    .tickFormat(d => Number.isInteger(d) ? d : ""))
  .call(styleAxis);

gAxes.append("g")
  .attr("transform", `translate(${margin.right},0)`)
  .call(d3.axisRight(y).tickValues(temperatureTicks).tickSize(-12).tickSizeOuter(0).tickFormat(() => ""))
  .call(styleAxis);

// axis titles
const xTitle = gAxes.append("text")
  .attr("x", (margin.left + margin.right) / 2)
  .attr("y", 1281)
  .attr("text-anchor", "middle")
  .attr("font-size", 33)
  .attr("font-weight", "bold")
  .attr("fill", "#000")
  .text("Absolute salinity, g kg");
xTitle.append("tspan").attr("dy", -13).attr("font-size", 22).text("-1");

gAxes.append("text")
  .attr("transform", `translate(37,625) rotate(-90)`)
  .attr("text-anchor", "middle")
  .attr("font-size", 33)
  .attr("font-weight", "bold")
  .attr("textLength", 530)
  .attr("lengthAdjust", "spacingAndGlyphs")
  .attr("fill", "#000")
  .text("Conservative temperature, \u00B0C");

// ---------- legend ----------
const legend = svg.append("g");
legend.append("rect")
  .attr("x", 477).attr("y", 61).attr("width", 340).attr("height", 99)
  .attr("fill", "#fff").attr("stroke", "#1a1a1a").attr("stroke-width", 2.2);
seriesNames.forEach((name, i) => {
  const cy = 82 + i * 28.6;
  legend.append("circle").attr("cx", 549).attr("cy", cy).attr("r", 10).attr("fill", seriesColors[i]);
  legend.append("text")
    .attr("x", 611).attr("y", cy + 9)
    .attr("font-size", 29).attr("fill", "#000")
    .text(name);
});
</script>
</body>
</html>
